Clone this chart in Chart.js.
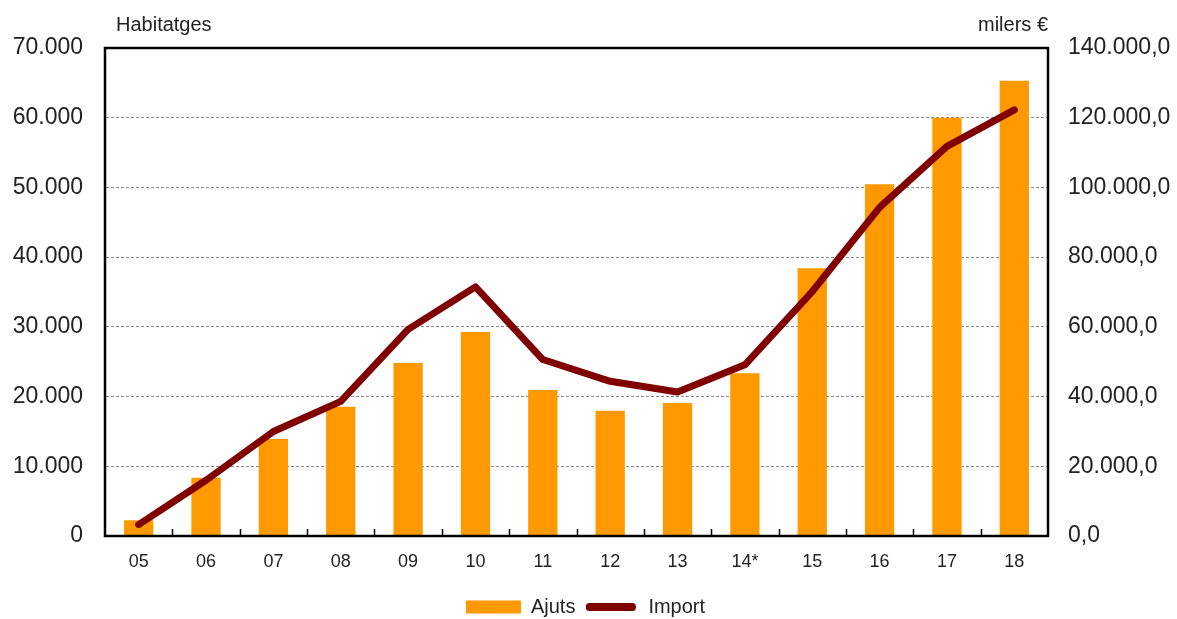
<!DOCTYPE html>
<html lang="ca">
<head>
    <meta charset="UTF-8">
    <title>Ajuts i import</title>
    <style>
        html, body { margin: 0; padding: 0; background: #fff; }
        canvas { display: block; }
    </style>
</head>
<body>
    <canvas id="myChart" width="1177" height="619"></canvas>

    <script src="https://cdn.jsdelivr.net/npm/chart.js@4.4.1/dist/chart.umd.min.js"></script>
    <script>
        // data
        var categories = ['05', '06', '07', '08', '09', '10', '11', '12', '13', '14*', '15', '16', '17', '18'];
        var ajuts = [2260, 8360, 13930, 18540, 24830, 29250, 20940, 17970, 19070, 23350, 38400, 50440, 60000, 65300];
        var importMilers = [3260, 16000, 29970, 38620, 59280, 71470, 50630, 44380, 41300, 49100, 70130, 94290, 111770, 122260];

        var leftTitle = 'Habitatges';
        var rightTitle = 'milers €';

        var orange = '#ff9900';
        var maroon = '#800000';
        var textColor = '#222';
        var fontFamily = '"Liberation Sans", Arial, sans-serif';

        function dots(v) {
            return String(Math.round(v)).replace(/\B(?=(\d{3})+(?!\d))/g, '.');
        }

        // plot frame, inner ticks on x axis and the two axis titles
        var framePlugin = {
            id: 'frame',
            afterDatasetsDraw: function (chart) {
                var ctx = chart.ctx, a = chart.chartArea;
                var x = chart.scales.x;
                ctx.save();
                ctx.strokeStyle = '#000';
                ctx.lineWidth = 1.5;
                for (var i = 1; i < categories.length; i++) {
                    var px = Math.round((x.getPixelForValue(i - 1) + x.getPixelForValue(i)) / 2) + 0.5;
                    ctx.beginPath();
                    ctx.moveTo(px, a.bottom);
                    ctx.lineTo(px, a.bottom - 7);
                    ctx.stroke();
                }
                ctx.lineWidth = 2.5;
                ctx.strokeRect(a.left, a.top, a.right - a.left, a.bottom - a.top);

                ctx.fillStyle = textColor;
                ctx.font = '20px ' + fontFamily;
                ctx.textBaseline = 'alphabetic';
                ctx.textAlign = 'left';
                ctx.fillText(leftTitle, a.left + 11, 31);
                ctx.textAlign = 'right';
                ctx.fillText(rightTitle, a.right, 31);
                ctx.restore();
            }
        };

        var ctx = document.getElementById('myChart').getContext('2d');
        new Chart(ctx, {
            type: 'bar',
            data: {
                labels: categories,
                datasets: [
                    {
                        label: 'Ajuts',
                        data: ajuts,
                        backgroundColor: orange,
                        borderWidth: 0,
                        barPercentage: 0.435,
                        categoryPercentage: 1,
                        yAxisID: 'y',
                        order: 2
                    },
                    {
                        type: 'line',
                        label: 'Import',
                        data: importMilers,
                        borderColor: maroon,
                        backgroundColor: maroon,
                        borderWidth: 7,
                        borderCapStyle: 'round',
                        borderJoinStyle: 'round',
                        pointRadius: 0,
                        tension: 0,
                        yAxisID: 'y1',
                        order: 1
                    }
                ]
            },
            options: {
                responsive: false,
                animation: false,
                layout: { padding: { top: 48, left: 0, right: 6, bottom: -8 } },
                plugins: {
                    tooltip: { enabled: false },
                    legend: {
                        position: 'bottom',
                        labels: {
                            color: textColor,
                            font: { size: 20, family: fontFamily },
                            boxWidth: 55,
                            boxHeight: 13,
                            padding: 8,
                            generateLabels: function (chart) {
                                return chart.data.datasets.map(function (ds, i) {
                                    var isLine = ds.type === 'line';
                                    return {
                                        text: ds.label,
                                        fillStyle: isLine ? maroon : orange,
                                        strokeStyle: '#fff',
                                        lineWidth: isLine ? 5 : 0,
                                        borderRadius: isLine ? 6 : 0,
                                        fontColor: textColor,
                                        datasetIndex: i,
                                        hidden: false
                                    };
                                });
                            }
                        }
                    }
                },
                scales: {
                    x: {
                        offset: true,
                        grid: { display: false, drawTicks: false },
                        border: { display: true, color: '#000', width: 2 },
                        ticks: {
                            color: textColor,
                            font: { size: 18, family: fontFamily },
                            padding: 15,
                            maxRotation: 0
                        },
                        afterFit: function (s) { s.height = 53; }
                    },
                    y: {
                        position: 'left',
                        min: 0,
                        max: 70000,
                        grid: {
                            color: '#8a8a8a',
                            lineWidth: 1,
                            drawTicks: false
                        },
                        border: { display: true, color: '#000', width: 2, dash: [3, 2] },
                        ticks: {
                            stepSize: 10000,
                            color: textColor,
                            font: { size: 23, family: fontFamily },
                            padding: 22,
                            callback: function (v) { return dots(v); }
                        },
                        afterFit: function (s) { s.width = 105; }
                    },
                    y1: {
                        position: 'right',
                        min: 0,
                        max: 140000,
                        grid: { drawOnChartArea: false, drawTicks: false },
                        border: { display: true, color: '#000', width: 2 },
                        ticks: {
                            stepSize: 20000,
                            color: textColor,
                            font: { size: 23, family: fontFamily },
                            padding: 20,
                            callback: function (v) { return dots(v) + ',0'; }
                        },
                        afterFit: function (s) { s.width = 123; }
                    }
                }
            },
            plugins: [framePlugin]
        });
    </script>
</body>
</html>
